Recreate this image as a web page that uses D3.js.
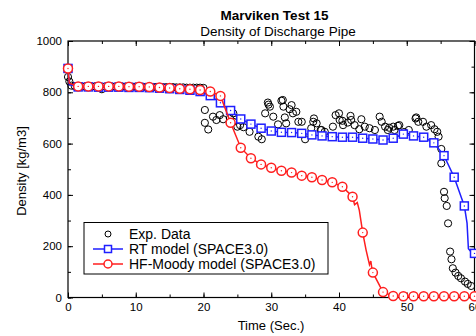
<!DOCTYPE html>
<html>
<head>
<meta charset="utf-8">
<script src="https://cdn.jsdelivr.net/npm/d3@7"></script>
<style>
  body { margin: 0; background: #fff; }
  svg { display: block; font-family: "Liberation Sans", Arial, sans-serif; }
</style>
</head>
<body>
<div id="chart"></div>
<script>
// Exp. data (time s, density kg/m3)
const expTime = [0, 0.2, 0.5, 1, 1.5, 2, 2.5, 3, 3.5, 4, 4.5, 5, 5.5, 6, 6.5, 7, 7.5, 8, 8.5, 9, 9.5, 10,
  10.5, 11, 11.5, 12, 12.5, 13, 13.5, 14, 14.5, 15, 15.5, 16, 16.5, 17, 17.5, 18, 18.5, 19, 19.5, 20,
  20.2, 20.2, 20.7, 21.4, 21.9, 22.4, 22.9, 23.9, 24.4, 24.4, 25.0, 25.4, 25.9, 26.8, 28.1, 28.6,
  29.1, 29.5, 29.6, 29.8, 30.3, 31.0, 31.5, 31.7, 31.8, 32.0, 32.2, 32.7, 33.0, 33.2, 33.7, 34.0,
  34.5, 35.0, 35.9, 36.2, 36.3, 36.7, 37.3, 37.4, 37.9, 39.1, 39.5, 40.0, 40.1, 40.5, 40.6, 41.3,
  41.7, 41.8, 42.3, 43.0, 43.3, 43.8, 44.5, 45.3, 46.0, 46.3, 46.8, 47.2, 47.4, 48.0, 48.2, 48.7,
  48.9, 49.6, 50.3, 51.3, 51.4, 51.7, 52.4, 52.9, 53.6, 54.1, 54.5, 54.7, 55.1, 55.1, 55.5, 55.6,
  55.9, 56.1, 56.4, 56.6, 56.8, 57.2, 57.6, 58.0, 58.6, 59.0, 59.5];
const expDensity = [860, 842, 826, 824, 823, 823, 822, 823, 822, 823, 822, 812, 822, 823, 822, 822, 823, 822, 822, 822, 821, 822,
  821, 821, 821, 821, 820, 821, 820, 820, 820, 819, 820, 819, 819, 819, 818, 818, 818, 818, 818, 817,
  731, 681, 655, 705, 692, 711, 695, 699, 718, 685, 666, 672, 664, 646, 627, 617,
  718, 760, 752, 744, 705, 675, 767, 770, 744, 702, 679, 734, 750, 718, 724, 685,
  685, 617, 660, 685, 698, 679, 653, 653, 646, 666, 711, 718, 692, 689, 672, 682,
  708, 692, 672, 656, 695, 666, 660, 653, 705, 685, 666, 653, 662, 666, 653, 669,
  672, 645, 653, 698, 702, 685, 685, 666, 672, 656, 646, 627, 579, 523, 412, 387,
  357, 289, 179, 149, 114, 97, 84, 75, 62, 53, 45];

// RT model (SPACE3.0)
const rtTime = [0, 0.2, 1.5, 3, 4.5, 6, 7.5, 9, 10.5, 12, 13.5, 15, 16.5, 18, 19.5, 21, 22.5, 24, 25.5, 27,
  28.5, 30, 31.5, 33, 34.5, 36, 37.5, 39, 40.5, 42, 43.5, 45, 46.5, 48, 49.5, 51, 52.5, 54, 55.5,
  57, 58.5, 58.9, 59.1, 59.5, 60];
const rtDensity = [893, 830, 821, 821, 820, 820, 820, 819, 819, 818, 816, 814, 811, 808, 803, 787, 759, 729, 696, 676,
  660, 649, 644, 643, 640, 634, 630, 627, 625, 625, 621, 618, 614, 621, 637, 630, 625, 603, 553,
  469, 357, 290, 190, 178, 172];

// HF-Moody model (SPACE3.0)
const hfTime = [0, 0.2, 1.5, 3, 4.5, 6, 7.5, 9, 10.5, 12, 13.5, 15, 16.5, 18, 19.5, 21, 22.5, 24, 25.5, 27,
  28.5, 30, 31.5, 33, 34.5, 36, 37.5, 39, 40.5, 42, 42.3, 42.7, 43, 43.5, 44, 44.5, 44.7, 44.9, 45,
  46.5, 48, 49.5, 51, 52.5, 54, 55.5, 57, 58.5, 60];
const hfDensity = [893, 835, 823, 823, 823, 823, 823, 822, 822, 821, 819, 817, 814, 812, 809, 803, 786, 681, 584, 543,
  519, 506, 494, 487, 475, 469, 458, 449, 432, 393, 362, 370, 340, 253, 185, 128, 142, 104, 97,
  21, 6, 5, 5, 5, 5, 5, 5, 5, 5];

const xTicks = [0, 10, 20, 30, 40, 50, 60];
const yTicks = [0, 200, 400, 600, 800, 1000];

const W = 476, H = 336;
const plotL = 68, plotR = 474.5, plotT = 41, plotB = 297.5;

const svg = d3.select("#chart").append("svg")
  .attr("width", W).attr("height", H);

const x = d3.scaleLinear([0, 60], [plotL, plotR]);
const y = d3.scaleLinear([0, 1000], [plotB, plotT]);

// titles
svg.append("text").attr("x", 274.5).attr("y", 20).attr("text-anchor", "middle")
  .style("font-size", "13.5px").style("font-weight", "bold").text("Marviken Test 15");
svg.append("text").attr("x", 278).attr("y", 36).attr("text-anchor", "middle")
  .style("font-size", "13.5px").text("Density of Discharge Pipe");

// axes, inward ticks
const minorX = d3.range(0, 61, 5), minorY = d3.range(0, 1001, 100);
function addAxis(axis, tx, ty, labels) {
  const g = svg.append("g").attr("transform", `translate(${tx},${ty})`).call(axis);
  g.select(".domain").remove();
  g.selectAll("text").style("font-size", "11.5px").style("fill", "#000");
  if (!labels) g.selectAll("text").remove();
  return g;
}
const fmt = d3.format("d");
addAxis(d3.axisBottom(x).tickValues(minorX).tickSizeInner(-3).tickFormat(""), 0, plotB, false);
addAxis(d3.axisBottom(x).tickValues(xTicks).tickSizeInner(-5).tickPadding(5).tickFormat(fmt), 0, plotB, true);
addAxis(d3.axisTop(x).tickValues(minorX).tickSizeInner(-3), 0, plotT, false);
addAxis(d3.axisTop(x).tickValues(xTicks).tickSizeInner(-5), 0, plotT, false);
addAxis(d3.axisLeft(y).tickValues(minorY).tickSizeInner(-3).tickFormat(""), plotL, 0, false);
addAxis(d3.axisLeft(y).tickValues(yTicks).tickSizeInner(-5).tickPadding(6).tickFormat(fmt), plotL, 0, true);
addAxis(d3.axisRight(y).tickValues(minorY).tickSizeInner(-3), plotR, 0, false);
addAxis(d3.axisRight(y).tickValues(yTicks).tickSizeInner(-5), plotR, 0, false);

svg.append("rect").attr("x", plotL).attr("y", plotT)
  .attr("width", plotR - plotL).attr("height", plotB - plotT)
  .attr("fill", "none").attr("stroke", "#000").attr("stroke-width", 1.2);

// axis labels
svg.append("text").attr("x", 271).attr("y", 330).attr("text-anchor", "middle")
  .style("font-size", "13px").text("Time (Sec.)");
svg.append("text").attr("transform", "translate(26,171) rotate(-90)").attr("text-anchor", "middle")
  .style("font-size", "13px").text("Density [kg/m3]");

const plot = svg.append("g");

// exp data
plot.selectAll(".exp").data(expTime).enter().append("circle")
  .attr("class", "exp")
  .attr("cx", d => x(d)).attr("cy", (d, i) => y(expDensity[i]))
  .attr("r", 3.6).attr("fill", "none").attr("stroke", "#000").attr("stroke-width", 1);

const isMarker = t => Math.abs(t / 1.5 - Math.round(t / 1.5)) < 1e-6;
const line = d3.line();

// RT model
const rtPts = rtTime.map((t, i) => [x(t), y(rtDensity[i])]);
plot.append("path").attr("d", line(rtPts)).attr("fill", "none")
  .attr("stroke", "#1f1fff").attr("stroke-width", 1.5);
const rtMk = rtPts.filter((p, i) => isMarker(rtTime[i]));
plot.selectAll(".rt").data(rtMk).enter().append("rect").attr("class", "rt")
  .attr("x", d => d[0] - 4).attr("y", d => d[1] - 4).attr("width", 8).attr("height", 8)
  .attr("fill", "#fff").attr("stroke", "#1f1fff").attr("stroke-width", 1.5);
plot.selectAll(".rtd").data(rtMk).enter().append("circle").attr("class", "rtd")
  .attr("cx", d => d[0]).attr("cy", d => d[1]).attr("r", 0.7).attr("fill", "#1f1fff");

// HF-Moody model
const hfPts = hfTime.map((t, i) => [x(t), y(hfDensity[i])]);
plot.append("path").attr("d", line(hfPts)).attr("fill", "none")
  .attr("stroke", "#ff1f1f").attr("stroke-width", 1.5);
const hfMk = hfPts.filter((p, i) => isMarker(hfTime[i]));
plot.selectAll(".hf").data(hfMk).enter().append("circle").attr("class", "hf")
  .attr("cx", d => d[0]).attr("cy", d => d[1]).attr("r", 4.5)
  .attr("fill", "#fff").attr("stroke", "#ff1f1f").attr("stroke-width", 1.5);
plot.selectAll(".hfd").data(hfMk).enter().append("circle").attr("class", "hfd")
  .attr("cx", d => d[0]).attr("cy", d => d[1]).attr("r", 0.7).attr("fill", "#ff1f1f");

// legend
const lg = svg.append("g");
lg.append("rect").attr("x", 84).attr("y", 222.5).attr("width", 244).attr("height", 51.5)
  .attr("fill", "#fff").attr("stroke", "#000").attr("stroke-width", 1);
lg.append("circle").attr("cx", 108).attr("cy", 234).attr("r", 3)
  .attr("fill", "none").attr("stroke", "#000");
lg.append("line").attr("x1", 93).attr("x2", 123).attr("y1", 249).attr("y2", 249)
  .attr("stroke", "#1f1fff").attr("stroke-width", 1.5);
lg.append("rect").attr("x", 104.5).attr("y", 245.5).attr("width", 7).attr("height", 7)
  .attr("fill", "#fff").attr("stroke", "#1f1fff").attr("stroke-width", 1.5);
lg.append("line").attr("x1", 93).attr("x2", 123).attr("y1", 264).attr("y2", 264)
  .attr("stroke", "#ff1f1f").attr("stroke-width", 1.5);
lg.append("circle").attr("cx", 108).attr("cy", 264).attr("r", 4)
  .attr("fill", "#fff").attr("stroke", "#ff1f1f").attr("stroke-width", 1.5);
const legendLabels = ["Exp. Data", "RT model (SPACE3.0)", "HF-Moody model (SPACE3.0)"];
lg.selectAll(".lt").data(legendLabels).enter().append("text").attr("class", "lt")
  .attr("x", 129).attr("y", (d, i) => 239 + i * 15)
  .style("font-size", "14px").text(d => d);
</script>
</body>
</html>
